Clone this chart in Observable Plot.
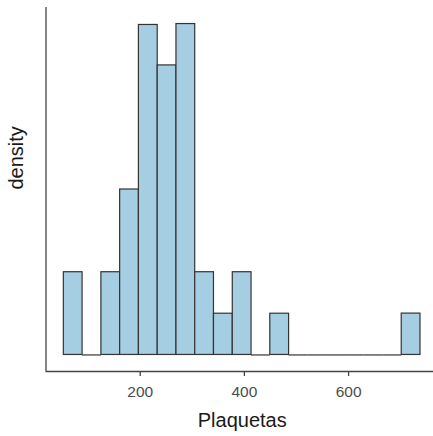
<!DOCTYPE html>
<html>
<head>
<meta charset="utf-8">
<script src="https://cdn.jsdelivr.net/npm/d3@7"></script>
<script src="https://cdn.jsdelivr.net/npm/@observablehq/plot@0.6"></script>
<style>
  html, body { margin: 0; padding: 0; background: #fff; overflow: hidden; }
  body { font-family: "Liberation Sans", Arial, Helvetica, sans-serif; }
</style>
</head>
<body>
<div id="chart"></div>
<script>
// Bin edges (Plaquetas)
const binEdges = [53.4, 89.4, 125.5, 161.5, 197.5, 233.6, 269.6, 305.6, 341.6, 377.7,
                  413.7, 449.7, 485.8, 521.8, 557.8, 593.9, 629.9, 665.9, 702.0, 738.0];
// Counts per bin
const binCounts = [2, 0, 2, 4, 8, 7, 8, 2, 1, 2, 0, 1, 0, 0, 0, 0, 0, 0, 1];
// X tick labels
const xTicks = [200, 400, 600];
const xTitle = "Plaquetas";
const yTitle = "density";

const n = d3.sum(binCounts);
const bins = binCounts.map((c, i) => {
  const x1 = binEdges[i], x2 = binEdges[i + 1];
  return {x1, x2, count: c, density: c / (n * (x2 - x1))};
});
const filled = bins.filter(d => d.count > 0);
const empty = bins.filter(d => d.count === 0);

const span = binEdges[binEdges.length - 1] - binEdges[0];
const xLo = binEdges[0] - 0.05 * span;
const xHi = 763; // panel is cut at the right edge of the image
const maxD = d3.max(bins, d => d.density);
const yLo = -0.05 * maxD, yHi = 1.05 * maxD;

const fill = "#A6CEE3";
const edge = "#333333";

const chart = Plot.plot({
  width: 433,
  height: 436,
  marginLeft: 45.5,
  marginRight: 0,
  marginTop: 7,
  marginBottom: 65,
  style: {fontFamily: '"Liberation Sans", Arial, Helvetica, sans-serif', background: "#fff"},
  x: {domain: [xLo, xHi], axis: null},
  y: {domain: [yLo, yHi], axis: null},
  marks: [
    Plot.rectY(filled, {x1: "x1", x2: "x2", y1: 0, y2: "density", fill: fill, stroke: edge, strokeWidth: 1.2}),
    Plot.ruleY(empty, {x1: "x1", x2: "x2", y: 0, stroke: edge, strokeWidth: 1.2}),
    Plot.ruleY([yLo], {stroke: "#444", strokeWidth: 1.3}),
    Plot.ruleX([xLo], {y1: yLo, y2: yHi, stroke: "#444", strokeWidth: 1.3}),
    Plot.axisX({ticks: xTicks, tickSize: 5, tickPadding: 9, fontSize: 15.5, color: "#4D4D4D", stroke: "#444", strokeWidth: 1.3, label: null, tickFormat: d3.format("d")}),
    Plot.text([xTitle], {frameAnchor: "bottom", lineAnchor: "top", dy: 41.5, dx: 2.5, fontSize: 20, fill: "#1a1a1a"}),
    Plot.text([yTitle], {frameAnchor: "left", rotate: -90, lineAnchor: "middle", dx: -29.4, fontSize: 20, fill: "#1a1a1a"})
  ]
});
document.getElementById("chart").appendChild(chart);
</script>
</body>
</html>
